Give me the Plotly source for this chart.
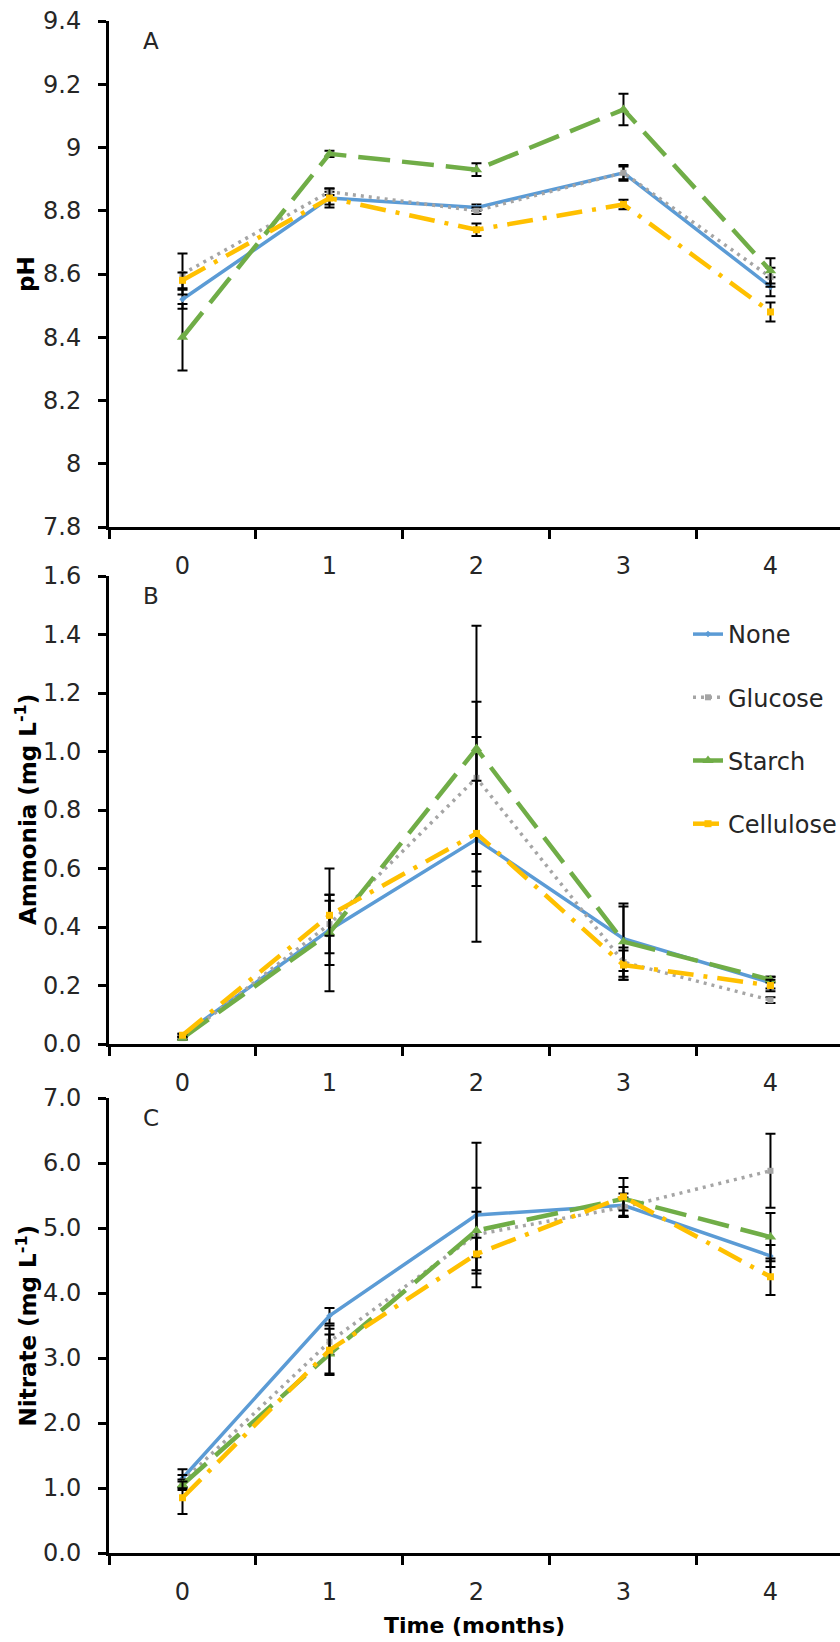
import plotly.graph_objects as go

# ---------------- data ----------------
months = [0, 1, 2, 3, 4]
month_labels = ["0", "1", "2", "3", "4"]
series_names = ["None", "Glucose", "Starch", "Cellulose"]

ph_none = [8.52, 8.84, 8.81, 8.92, 8.56]
ph_glucose = [8.60, 8.86, 8.80, 8.92, 8.59]
ph_starch = [8.40, 8.98, 8.93, 9.12, 8.61]
ph_cellulose = [8.58, 8.84, 8.74, 8.82, 8.48]
ph_none_err = [0.03, 0.02, 0.01, 0.025, 0.03]
ph_glucose_err = [0.065, 0.01, 0.01, 0.02, 0.03]
ph_starch_err = [0.105, 0.01, 0.02, 0.05, 0.04]
ph_cellulose_err = [0.025, 0.03, 0.02, 0.015, 0.03]

nh_none = [0.03, 0.39, 0.70, 0.36, 0.21]
nh_glucose = [0.02, 0.41, 0.91, 0.28, 0.15]
nh_starch = [0.02, 0.38, 1.01, 0.35, 0.22]
nh_cellulose = [0.03, 0.44, 0.72, 0.27, 0.20]
nh_none_err = [0.005, 0.21, 0.35, 0.11, 0.02]
nh_glucose_err = [0.005, 0.10, 0.26, 0.05, 0.01]
nh_starch_err = [0.005, 0.11, 0.42, 0.13, 0.01]
nh_cellulose_err = [0.005, 0.07, 0.18, 0.05, 0.02]

no_none = [1.15, 3.65, 5.20, 5.35, 4.57]
no_glucose = [1.10, 3.25, 4.90, 5.32, 5.88]
no_starch = [1.05, 3.06, 4.96, 5.45, 4.86]
no_cellulose = [0.85, 3.12, 4.60, 5.48, 4.25]
no_none_err = [0.14, 0.12, 1.11, 0.18, 0.17]
no_glucose_err = [0.10, 0.20, 0.35, 0.15, 0.57]
no_starch_err = [0.08, 0.30, 0.66, 0.18, 0.37]
no_cellulose_err = [0.25, 0.38, 0.25, 0.29, 0.28]

# ---------------- styles ----------------
W, H = 840, 1642
FONT = "DejaVu Sans"
TXT = "#262626"
colors = {"None": "#5B9BD5", "Glucose": "#A5A5A5", "Starch": "#70AD47", "Cellulose": "#FFC000"}
dashes = {"None": "solid", "Glucose": "3px,5px", "Starch": "32px,12px", "Cellulose": "26px,10px,4px,10px"}
widths = {"None": 3.5, "Glucose": 3.5, "Starch": 4.5, "Cellulose": 4.5}
markers = {"None": dict(symbol="diamond", size=5),
           "Glucose": dict(symbol="square", size=6),
           "Starch": dict(symbol="triangle-up", size=10),
           "Cellulose": dict(symbol="square", size=7)}

panels = [
    ([ph_none, ph_glucose, ph_starch, ph_cellulose],
     [ph_none_err, ph_glucose_err, ph_starch_err, ph_cellulose_err]),
    ([nh_none, nh_glucose, nh_starch, nh_cellulose],
     [nh_none_err, nh_glucose_err, nh_starch_err, nh_cellulose_err]),
    ([no_none, no_glucose, no_starch, no_cellulose],
     [no_none_err, no_glucose_err, no_starch_err, no_cellulose_err]),
]

# pixel layout of the three plot areas (top, bottom)
panel_px = [(21, 527), (576, 1044), (1098, 1553)]
x_left_px = 109


def ydom(top, bottom):
    return [1 - bottom / H, 1 - top / H]


fig = go.Figure()
for p, (vals, errs) in enumerate(panels):
    axn = "" if p == 0 else str(p + 1)
    for name, v, e in zip(series_names, vals, errs):
        fig.add_trace(go.Scatter(
            x=months, y=v, name=name, mode="lines+markers",
            xaxis="x" + axn, yaxis="y" + axn,
            line=dict(color=colors[name], width=widths[name], dash=dashes[name]),
            marker=dict(color=colors[name], **markers[name]),
            error_y=dict(type="data", array=e, visible=True, color="black",
                         thickness=2, width=5),
            legendgroup=name, showlegend=(p == 1),
        ))

axis_common = dict(showline=True, linecolor="black", linewidth=3,
                   showgrid=False, zeroline=False, mirror=False, automargin=False)
y_settings = [
    dict(range=[7.8, 9.4], dtick=0.2, tick0=7.8),
    dict(range=[0, 1.6], dtick=0.2, tick0=0, tickformat=".1f"),
    dict(range=[0, 7], dtick=1, tick0=0, tickformat=".1f"),
]
layout = dict(
    width=W, height=H, margin=dict(l=0, r=0, t=0, b=0, autoexpand=False),
    paper_bgcolor="white", plot_bgcolor="white",
    font=dict(family=FONT, size=24, color=TXT),
    legend=dict(x=(728 - 40) / W, xanchor="left", y=1 - 612 / H, yanchor="top",
                font=dict(family=FONT, size=24, color=TXT),
                tracegroupgap=29, bgcolor="rgba(0,0,0,0)", itemwidth=30),
    showlegend=True,
)
for p in range(3):
    axn = "" if p == 0 else str(p + 1)
    top, bottom = panel_px[p]
    layout["xaxis" + axn] = dict(
        **axis_common, domain=[x_left_px / W, 1.0], anchor="y" + axn,
        range=[-0.5, 4.473], tickmode="array", tickvals=months, ticktext=month_labels,
        ticks="", ticklabelstandoff=15,
        tickfont=dict(family=FONT, size=24, color=TXT),
        minor=dict(tickmode="array", tickvals=[-0.5, 0.5, 1.5, 2.5, 3.5, 4.5],
                   ticks="outside", ticklen=9, tickwidth=3, tickcolor="black",
                   showgrid=False),
    )
    layout["yaxis" + axn] = dict(
        **axis_common, domain=ydom(top, bottom), anchor="x" + axn,
        ticks="outside", ticklen=8, tickwidth=3, tickcolor="black",
        ticklabelstandoff=12,
        tickfont=dict(family=FONT, size=24, color=TXT),
        **y_settings[p],
    )

fig.update_layout(**layout)

# y-axis titles, panel letters, x title
ytitles = ["pH", "Ammonia (mg L<sup>-1</sup>)", "Nitrate (mg L<sup>-1</sup>)"]
letters = ["A", "B", "C"]
for p in range(3):
    top, bottom = panel_px[p]
    fig.add_annotation(text="<b>" + ytitles[p] + "</b>", textangle=-90,
                       xref="paper", yref="paper", x=26 / W, y=1 - (top + bottom) / 2 / H,
                       xanchor="center", yanchor="middle", showarrow=False,
                       font=dict(family=FONT, size=23, color="black"))
    fig.add_annotation(text=letters[p], xref="paper", yref="paper",
                       x=141 / W, y=1 - (top + 20) / H, xanchor="left", yanchor="middle",
                       showarrow=False, font=dict(family=FONT, size=23, color=TXT))
fig.add_annotation(text="<b>Time (months)</b>", xref="paper", yref="paper",
                   x=(x_left_px + W) / 2 / W, y=1 - 1625 / H, xanchor="center",
                   yanchor="middle", showarrow=False,
                   font=dict(family=FONT, size=22, color="black"))

fig.write_html("out.html",
               config={"displayModeBar": False},
               post_script="document.body.style.margin='0';"
                           "document.documentElement.style.overflow='hidden';")
